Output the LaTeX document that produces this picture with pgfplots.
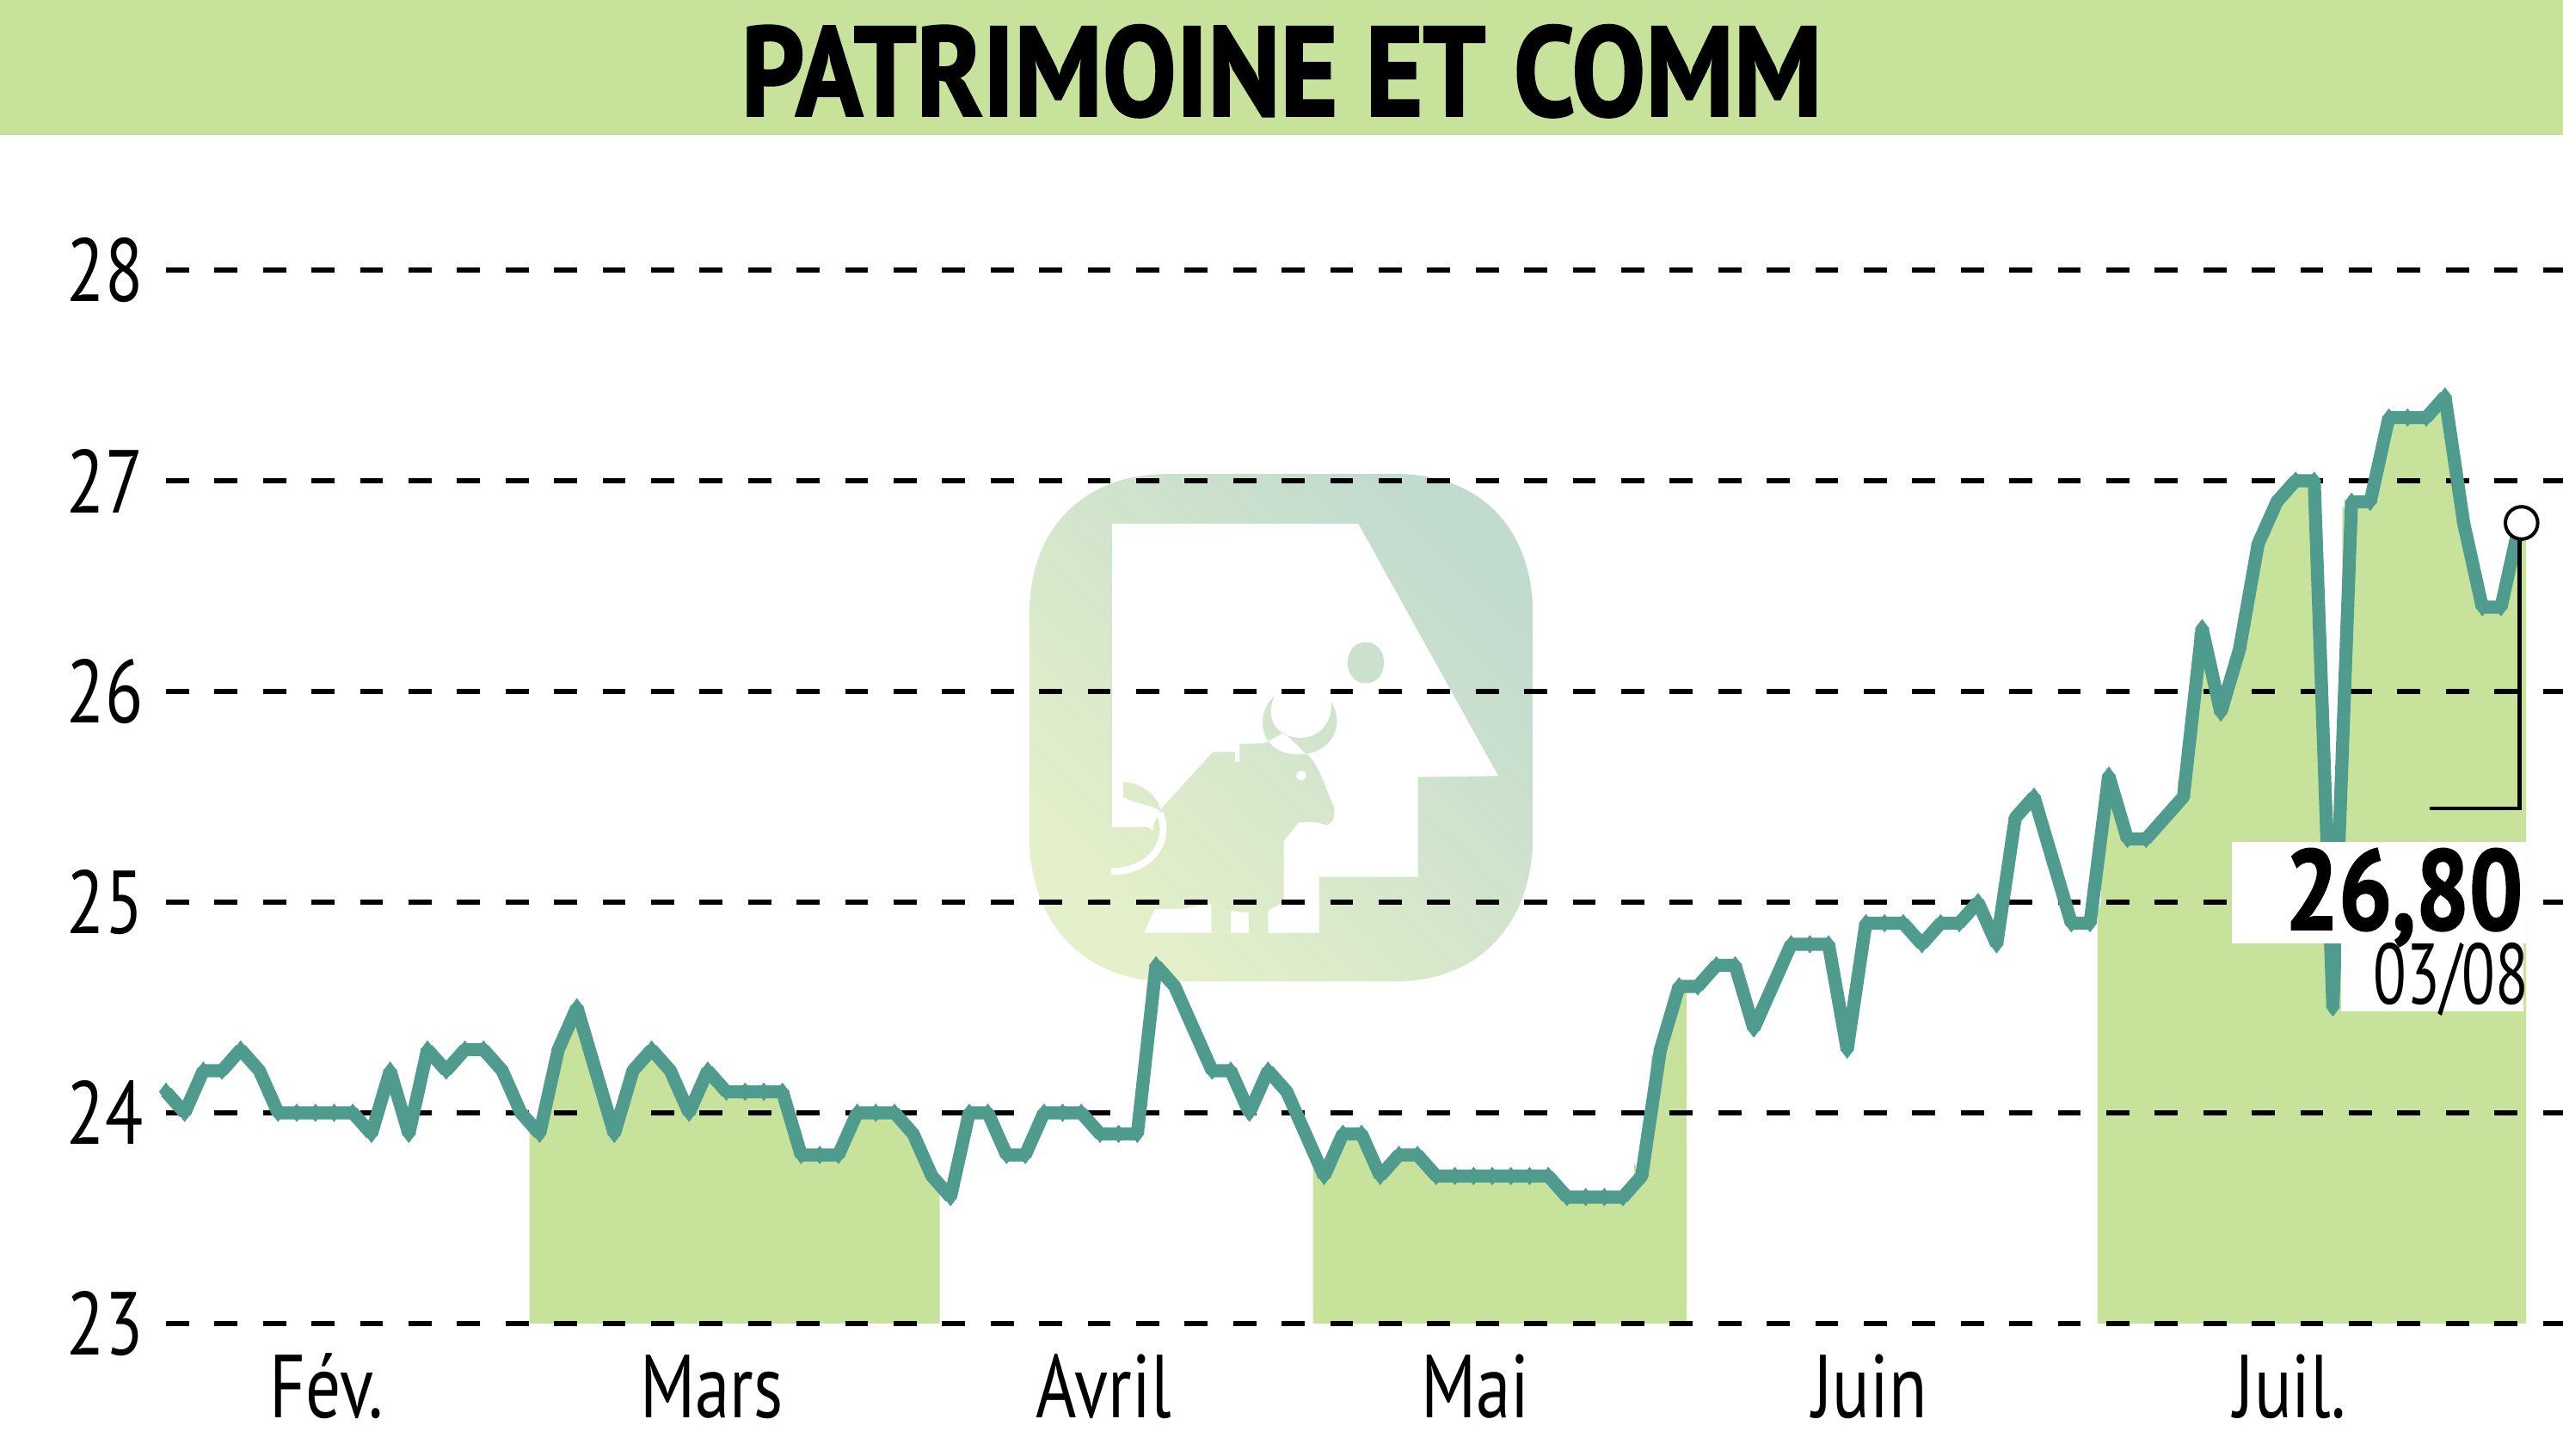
\documentclass[border=0pt]{standalone}
\usepackage{fontspec}
\usepackage{pgfplots}
\pgfplotsset{compat=1.18}
\setmainfont[FakeStretch=0.78]{PT Sans}
\newfontfamily\heavy[FakeStretch=0.866,BoldFeatures={FakeBold=1.6}]{PT Sans}
\newfontfamily\heavyb[FakeStretch=0.83,BoldFeatures={FakeBold=1.6}]{PT Sans}
\newfontfamily\thin[FakeStretch=0.71]{PT Sans}
\definecolor{band}{HTML}{C7E29B}
\definecolor{teal}{HTML}{4F9C8F}
\definecolor{logoA}{HTML}{E4F0C9}
\definecolor{logoB}{HTML}{C2DBCF}
\pgfplotstableread{
x y
0 24.1
1 24.0
2 24.2
3 24.2
4 24.3
5 24.2
6 24.0
7 24.0
8 24.0
9 24.0
10 24.0
11 23.9
12 24.2
13 23.9
14 24.3
15 24.2
16 24.3
17 24.3
18 24.2
19 24.0
20 23.9
21 24.3
22 24.5
23 24.2
24 23.9
25 24.2
26 24.3
27 24.2
28 24.0
29 24.2
30 24.1
31 24.1
32 24.1
33 24.1
34 23.8
35 23.8
36 23.8
37 24.0
38 24.0
39 24.0
40 23.9
41 23.7
42 23.6
43 24.0
44 24.0
45 23.8
46 23.8
47 24.0
48 24.0
49 24.0
50 23.9
51 23.9
52 23.9
53 24.7
54 24.6
55 24.4
56 24.2
57 24.2
58 24.0
59 24.2
60 24.1
61 23.9
62 23.7
63 23.9
64 23.9
65 23.7
66 23.8
67 23.8
68 23.7
69 23.7
70 23.7
71 23.7
72 23.7
73 23.7
74 23.7
75 23.6
76 23.6
77 23.6
78 23.6
79 23.7
80 24.3
81 24.6
82 24.6
83 24.7
84 24.7
85 24.4
86 24.6
87 24.8
88 24.8
89 24.8
90 24.3
91 24.9
92 24.9
93 24.9
94 24.8
95 24.9
96 24.9
97 25.0
98 24.8
99 25.4
100 25.5
101 25.2
102 24.9
103 24.9
104 25.6
105 25.3
106 25.3
107 25.4
108 25.5
109 26.3
110 25.9
111 26.2
112 26.7
113 26.9
114 27.0
115 27.0
116 24.5
117 26.9
118 26.9
119 27.3
120 27.3
121 27.3
122 27.4
123 26.8
124 26.4
125 26.4
126 26.8
}\pricetable
\begin{document}
\begin{tikzpicture}[x=1pt,y=1pt]
\path[use as bounding box] (0,0) rectangle (745,423.25);
% title band
\fill[band] (0,423.25) rectangle (745,384);
\node[anchor=base,inner sep=0pt] at (372.5,389.6) {\heavy\bfseries\fontsize{37}{37}\selectfont PATRIMOINE ET COMM};
% logo, coordinates are pixels of the reference crop
\begin{scope}[shift={(287.5pt,293.25pt)},x=0.10841pt,y=-0.10365pt]
\def\squircle{(480,75) -- (1090,75) .. controls (1320,75) and (1458,230) .. (1458,470) -- (1458,1090) .. controls (1458,1330) and (1320,1498) .. (1090,1498) -- (480,1498) .. controls (250,1498) and (108,1330) .. (108,1090) -- (108,470) .. controls (108,230) and (250,75) .. (480,75) -- cycle}
\def\logoshade{\shade[left color=logoA,right color=logoB,shading angle=135] (108,75) rectangle (1458,1498);}
\begin{scope}\clip \squircle; \logoshade \end{scope}
\fill[white] (330,215) -- (990,215) -- (1365,922) -- (1150,925) -- (1150,1205) -- (885,1205) -- (885,1362) -- (415,1362) -- (445,1295) -- (515,1295) -- (470,1100) -- (425,1065) -- (330,1065) -- cycle;
\begin{scope}
\clip (460,1015) -- (600,855) -- (660,855) -- (660,882) -- (672,882) -- (672,832) -- (740,830) -- (790,800) -- (850,860) .. controls (880,880) and (900,950) .. (925,1010) .. controls (930,1040) and (915,1060) .. (905,1060) .. controls (880,1050) and (850,1050) .. (830,1052) -- (790,1105) -- (790,1275) -- (748,1300) -- (748,1362) -- (696,1362) -- (696,1305) -- (648,1300) -- (648,1362) -- (596,1362) -- (596,1280) -- (515,1295) -- (440,1180) -- (440,1060) -- cycle
(765,698) .. controls (715,740) and (715,860) .. (830,862) .. controls (920,860) and (955,780) .. (918,715) .. controls (920,780) and (880,815) .. (835,815) .. controls (780,815) and (735,770) .. (765,698) -- cycle
(1010,547) .. controls (1075,547) and (1075,662) .. (1010,662) .. controls (945,662) and (945,547) .. (1010,547) -- cycle
(360,938) .. controls (420,945) and (455,985) .. (460,1020) .. controls (430,1000) and (385,1000) .. (360,980) -- cycle;
\logoshade
\end{scope}
\fill[white] (837,908) .. controls (855,908) and (855,934) .. (837,934) .. controls (819,934) and (819,908) .. (837,908) -- cycle;
\draw[white,line width=2pt] (458,1025) .. controls (490,1110) and (430,1190) .. (328,1190);
\end{scope}
\begin{axis}[
  at={(0,0)},anchor=south west,
  scale only axis,width=745pt,height=423.25pt,
  xmin=-8.886,xmax=128.32,ymin=22.371,ymax=29.282,
  axis line style={draw=none},
  major tick length=0pt,
  clip=false,
  xtick={8.6,29.2,50.2,70.1,91.2,113.7},
  xticklabels={Fév.,Mars,Avril,Mai,Juin,Juil.},
  ytick={23,24,25,26,27,28},
  yticklabels={23,24,25,26,27,28},
  ticklabel style={font=\fontsize{26}{26}\selectfont,black},
  yticklabel style={anchor=center,xshift=30.5pt},
  xticklabel style={anchor=base,yshift=11pt},
]
% month areas
\addplot[draw=none,fill=band,forget plot] coordinates {(19.46,23)(19.46,23.95)(20,23.9)(20.55,24.05)(20.55,24.27)(21,24.3)(22,24.5)(23,24.2)(24,23.9)(25,24.2)(26,24.3)(27,24.2)(28,24.0)(29,24.2)(30,24.1)(33,24.1)(34,23.8)(36,23.8)(37,24.0)(39,24.0)(40,23.9)(41,23.7)(41.42,23.66)(41.42,23)} -- cycle;
\addplot[draw=none,fill=band,forget plot] coordinates {(61.4,23)(61.4,23.75)(62,23.7)(63,23.9)(64,23.9)(65,23.7)(66,23.8)(67,23.8)(68,23.7)(74,23.7)(75,23.6)(78,23.6)(78.6,23.65)(78.6,23.76)(79,23.7)(79.5,24.0)(79.5,24.27)(80,24.3)(81,24.6)(81.4,24.6)(81.4,23)} -- cycle;
\addplot[draw=none,fill=band,forget plot] coordinates {(103.4,23)(103.4,24.95)(103.6,25.0)(103.6,25.58)(104,25.6)(105,25.3)(106,25.3)(107,25.4)(107.7,25.47)(107.7,25.58)(108,25.5)(108.57,25.9)(108.57,26.28)(109,26.3)(110,25.9)(111,26.2)(111.7,26.55)(111.7,26.67)(112,26.7)(113,26.9)(114,27.0)(115,27.0)(116,24.5)(116.5,25.7)(116.5,26.87)(117,26.9)(118,26.9)(119,27.3)(121,27.3)(122,27.4)(123,26.8)(124,26.4)(125,26.4)(126,26.8)(126.34,26.8)(126.34,23)} -- cycle;
% grid
\pgfplotsinvokeforeach{23,24,25,26,27,28}{
  \addplot[black,line width=1.35pt,dash pattern=on 6.7pt off 7.4pt,forget plot] coordinates {(0,#1)(128.32,#1)};
}
% price line
\addplot[teal,line width=3.8pt,line join=bevel,mark=diamond*,mark size=2.6pt,mark options={solid,fill=teal,draw=teal,line width=0.1pt}] table[x=x,y=y] {\pricetable};
% white boxes for the last value
\addplot[draw=none,fill=white,forget plot] coordinates {(110.6,25.286)(126.34,25.286)(126.34,24.804)(110.6,24.804)} -- cycle;
\addplot[draw=none,fill=white,forget plot] coordinates {(116.44,24.804)(126.2,24.804)(126.2,24.48)(116.44,24.48)} -- cycle;
% callout
\addplot[black,line width=1.1pt,forget plot] coordinates {(126,26.8)(126,25.445)(121.2,25.445)};
\addplot[only marks,mark=*,mark size=4.7pt,mark options={fill=white,draw=black,line width=1pt},forget plot] coordinates {(126.1,26.8)};
\node[anchor=base east,inner sep=0pt] at (axis cs:126.2,24.87) {\heavyb\bfseries\fontsize{33}{33}\selectfont 26,80};
\node[anchor=base east,inner sep=0pt] at (axis cs:126.5,24.518) {\thin\fontsize{25}{25}\selectfont 03/08};
\end{axis}
\end{tikzpicture}
\end{document}
